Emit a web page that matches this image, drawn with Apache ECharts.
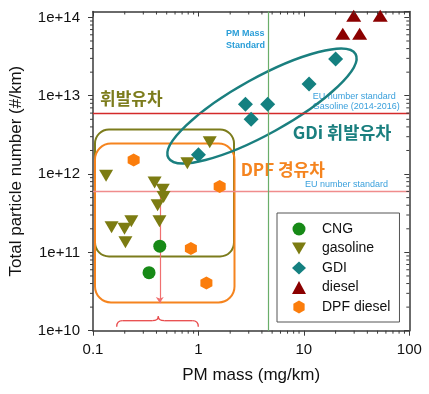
<!DOCTYPE html>
<html><head><meta charset="utf-8">
<script src="https://cdn.jsdelivr.net/npm/echarts@6/dist/echarts.min.js"></script>
<style>html,body{margin:0;padding:0;background:#fff}#c{width:429px;height:394px}</style>
</head><body><div id="c"></div>
<script>
// ---- data ----
const cngX = [0.43, 0.34];
const cngY = [1.2e11, 5.5e10];
const gasolineX = [0.133, 0.384, 0.459, 0.467, 0.41, 0.427, 0.15, 0.199, 0.231, 0.203, 0.785, 1.28];
const gasolineY = [9.5e11, 7.8e11, 6.3e11, 5.1e11, 4.0e11, 2.5e11, 2.1e11, 2.0e11, 2.5e11, 1.35e11, 1.37e12, 2.55e12];
const gdiX = [1.0, 2.79, 4.54, 3.16, 11.2, 20];
const gdiY = [1.77e12, 7.8e12, 7.8e12, 5.0e12, 1.41e13, 2.94e13];
const dieselX = [29.7, 53, 23.4, 33.8];
const dieselY = [1.05e14, 1.05e14, 6.2e13, 6.2e13];
const dpfX = [0.243, 1.59, 0.848, 1.19];
const dpfY = [1.51e12, 6.95e11, 1.12e11, 4.06e10];

const euGasolineLimit = 6e12;
const euLimit = 6e11;
const pmMassLimit = 4.6;
const dpfMassMark = 0.43;
const dpfArrowEnd = 2.25e10;

const xRange = [0.1, 100];
const yRange = [1e10, 1.19e14];
const xTickLabels = ['0.1', '1', '10', '100'];
const yTickLabels = ['1e+10', '1e+11', '1e+12', '1e+13', '1e+14'];
const xMinor = [0.2,0.3,0.4,0.5,0.6,0.7,0.8,0.9,2,3,4,5,6,7,8,9,20,30,40,50,60,70,80,90];
const yMinor = [2e10,3e10,4e10,5e10,6e10,7e10,8e10,9e10,2e11,3e11,4e11,5e11,6e11,7e11,8e11,9e11,
                2e12,3e12,4e12,5e12,6e12,7e12,8e12,9e12,2e13,3e13,4e13,5e13,6e13,7e13,8e13,9e13];

const names = ['CNG', 'gasoline', 'GDI', 'diesel', 'DPF diesel'];

// ---- helpers ----
const zip = (a, b) => a.map((v, i) => [v, b[i]]);
const AX = '#3a3a3a';
const LATIN = 'Liberation Sans, Arial, sans-serif';
const KR = 'Noto Sans CJK KR, sans-serif';
function isPow(v){ const e = Math.log10(v); return Math.abs(e - Math.round(e)) < 1e-6; }

function axisBase(type, pos, inside, range) {
  return {
    type: 'log', logBase: 10, min: range[0], max: range[1], position: pos,
    axisLine: { show: true, lineStyle: { color: AX, width: 1.5 } },
    splitLine: { show: false }, minorTick: { show: false },
    axisTick: { show: true, inside: inside, length: 5, lineStyle: { color: AX, width: 1 } },
    axisLabel: { show: false }
  };
}
const xBottom = axisBase('x', 'bottom', false, xRange);
xBottom.axisLabel = { show: true, margin: 12, fontSize: 15, fontFamily: LATIN, color: '#111',
  formatter: v => isPow(v) ? xTickLabels[Math.round(Math.log10(v)) + 1] : '' };
xBottom.name = 'PM mass (mg/km)'; xBottom.nameLocation = 'middle'; xBottom.nameGap = 36;
xBottom.nameTextStyle = { fontSize: 17, fontFamily: LATIN, color: '#111' };
const xTop = axisBase('x', 'top', true, xRange);
const yLeft = axisBase('y', 'left', false, yRange);
yLeft.axisLabel = { show: true, margin: 13, fontSize: 15, fontFamily: LATIN, color: '#111',
  showMaxLabel: false,
  formatter: v => isPow(v) ? yTickLabels[Math.round(Math.log10(v)) - 10] : '' };
yLeft.name = 'Total particle number (#/km)'; yLeft.nameLocation = 'middle'; yLeft.nameGap = 68;
yLeft.nameTextStyle = { fontSize: 17, fontFamily: LATIN, color: '#111' };
const yRight = axisBase('y', 'right', true, yRange);

const triDown = 'path://M0,0L14,0L7,12Z';
const hexagon = 'path://M5,0L10,2.887L10,8.66L5,11.547L0,8.66L0,2.887Z';
const BRACE = { fill: 'none', stroke: '#e8494a', lineWidth: 1.3 };
const TICK = { stroke: AX, lineWidth: 1 };

// minor log ticks drawn through the axes' own coordinate conversion
function minorX(params, api) {
  const v = api.value(0);
  const b = api.coord([v, yRange[0]]);
  const t = api.coord([v, yRange[1]]);
  return { type: 'group', children: [
    { type: 'line', shape: { x1: b[0], y1: b[1], x2: b[0], y2: b[1] + 3 }, style: TICK },
    { type: 'line', shape: { x1: t[0], y1: t[1], x2: t[0], y2: t[1] + 3 }, style: TICK }
  ] };
}
function minorY(params, api) {
  const v = api.value(1);
  const l = api.coord([xRange[0], v]);
  const r = api.coord([xRange[1], v]);
  return { type: 'group', children: [
    { type: 'line', shape: { x1: l[0] - 3, y1: l[1], x2: l[0], y2: l[1] }, style: TICK },
    { type: 'line', shape: { x1: r[0] - 3, y1: r[1], x2: r[0], y2: r[1] }, style: TICK }
  ] };
}

const chart = echarts.init(document.getElementById('c'), null, { renderer: 'canvas' });
chart.setOption({
  animation: false,
  backgroundColor: '#fff',
  grid: { left: 91.5, right: 19.7, top: 11.5, bottom: 63.3 },
  xAxis: [xBottom, xTop],
  yAxis: [yLeft, yRight],
  legend: {
    data: names, orient: 'vertical', left: 277, top: 213,
    itemWidth: 14, itemHeight: 13, itemGap: 5.5,
    padding: [9, 9, 8, 15], borderColor: '#555', borderWidth: 1,
    backgroundColor: '#fff', symbolKeepAspect: true,
    textStyle: { fontSize: 14, fontFamily: LATIN, color: '#111', padding: [0, 0, 0, 11] }
  },
  graphic: [
    { type: 'rect', shape: { x: 95, y: 129.5, width: 139, height: 127, r: 14 },
      style: { fill: 'none', stroke: '#7c7c1c', lineWidth: 2 }, z: 1 },
    { type: 'rect', shape: { x: 95, y: 143.5, width: 139.5, height: 159, r: 16 },
      style: { fill: 'none', stroke: '#f5841f', lineWidth: 2 }, z: 1 },
    { type: 'bezierCurve', shape: { x1: 116.7, y1: 326.7, cpx1: 116.7, cpy1: 320.7, x2: 122.7, y2: 320.7 }, style: BRACE, z: 1 },
    { type: 'line', shape: { x1: 122.7, y1: 320.7, x2: 152.3, y2: 320.7 }, style: BRACE, z: 1 },
    { type: 'bezierCurve', shape: { x1: 152.3, y1: 320.7, cpx1: 158.3, cpy1: 320.7, x2: 158.3, y2: 316.2 }, style: BRACE, z: 1 },
    { type: 'bezierCurve', shape: { x1: 158.3, y1: 316.2, cpx1: 158.3, cpy1: 320.7, x2: 164.3, y2: 320.7 }, style: BRACE, z: 1 },
    { type: 'line', shape: { x1: 164.3, y1: 320.7, x2: 192.3, y2: 320.7 }, style: BRACE, z: 1 },
    { type: 'bezierCurve', shape: { x1: 192.3, y1: 320.7, cpx1: 198.3, cpy1: 320.7, x2: 198.3, y2: 326.7 }, style: BRACE, z: 1 },
    { type: 'text', x: 226, y: 27, z: 1, style: { text: 'PM Mass\nStandard', font: 'bold 9px ' + LATIN, fill: '#2a9ed8', lineHeight: 12.5, align: 'left', verticalAlign: 'top' } },
    { type: 'text', x: 312.7, y: 91.7, z: 1, style: { text: 'EU number standard\nGasoline (2014-2016)', font: '9px ' + LATIN, fill: '#3aa0dc', lineHeight: 10, align: 'left', verticalAlign: 'top' } },
    { type: 'text', x: 305, y: 185, z: 1, style: { text: 'EU number standard', font: '9px ' + LATIN, fill: '#3aa0dc', align: 'left', verticalAlign: 'middle' } },
    { type: 'text', x: 100, y: 99, z: 1, style: { text: '휘발유차', font: 'bold 17px ' + KR, fill: '#7c7c1c', align: 'left', verticalAlign: 'middle' } },
    { type: 'text', x: 292.7, y: 132.7, z: 1, style: { text: 'GDi 휘발유차', font: 'bold 17.5px ' + KR, fill: '#1a7f7f', align: 'left', verticalAlign: 'middle' } },
    { type: 'text', x: 240.7, y: 170, z: 1, style: { text: 'DPF 경유차', font: 'bold 17px ' + KR, fill: '#f5841f', align: 'left', verticalAlign: 'middle' } },
    { type: 'ellipse', x: 262, y: 106, rotation: 29 * Math.PI / 180, z: 1,
      shape: { cx: 0, cy: 0, rx: 107, ry: 28 },
      style: { fill: 'none', stroke: '#1a7f7f', lineWidth: 2.5 } }
  ],
  series: [
    { name: 'xMinor', type: 'custom', renderItem: minorX, data: xMinor.map(v => [v, yRange[0]]),
      silent: true, clip: false, z: 4 },
    { name: 'yMinor', type: 'custom', renderItem: minorY, data: yMinor.map(v => [xRange[0], v]),
      silent: true, clip: false, z: 4 },
    { name: 'refs', type: 'scatter', data: [], silent: true, z: 1,
      markLine: { silent: true, symbol: 'none', animation: false, label: { show: false }, z: 1,
        data: [
          { yAxis: euGasolineLimit, lineStyle: { color: '#d42a2a', width: 1.3, type: 'solid' } },
          { yAxis: euLimit, lineStyle: { color: '#f08c8c', width: 1.3, type: 'solid' } },
          { xAxis: pmMassLimit, lineStyle: { color: '#6aae6a', width: 1.2, type: 'solid' } },
          [ { coord: [dpfMassMark, euLimit], symbol: 'none', lineStyle: { color: '#f07070', width: 1.2, type: 'solid' } },
            { coord: [dpfMassMark, dpfArrowEnd], symbol: 'arrow', symbolSize: 6 } ]
        ] } },
    { name: 'CNG', type: 'scatter', data: zip(cngX, cngY), symbol: 'circle', symbolSize: 13,
      itemStyle: { color: '#178a17', opacity: 1 }, z: 3 },
    { name: 'gasoline', type: 'scatter', data: zip(gasolineX, gasolineY), symbol: triDown, symbolSize: [14, 12],
      itemStyle: { color: '#7c7c12', opacity: 1 }, z: 3 },
    { name: 'GDI', type: 'scatter', data: zip(gdiX, gdiY), symbol: 'diamond', symbolSize: 15,
      itemStyle: { color: '#148080', opacity: 1 }, z: 3 },
    { name: 'diesel', type: 'scatter', data: zip(dieselX, dieselY), symbol: 'triangle', symbolSize: [15, 12],
      itemStyle: { color: '#8b0000', opacity: 1 }, z: 3 },
    { name: 'DPF diesel', type: 'scatter', data: zip(dpfX, dpfY), symbol: hexagon, symbolSize: [12, 13],
      itemStyle: { color: '#fb7d0c', opacity: 1 }, z: 3 }
  ]
});
</script></body></html>
